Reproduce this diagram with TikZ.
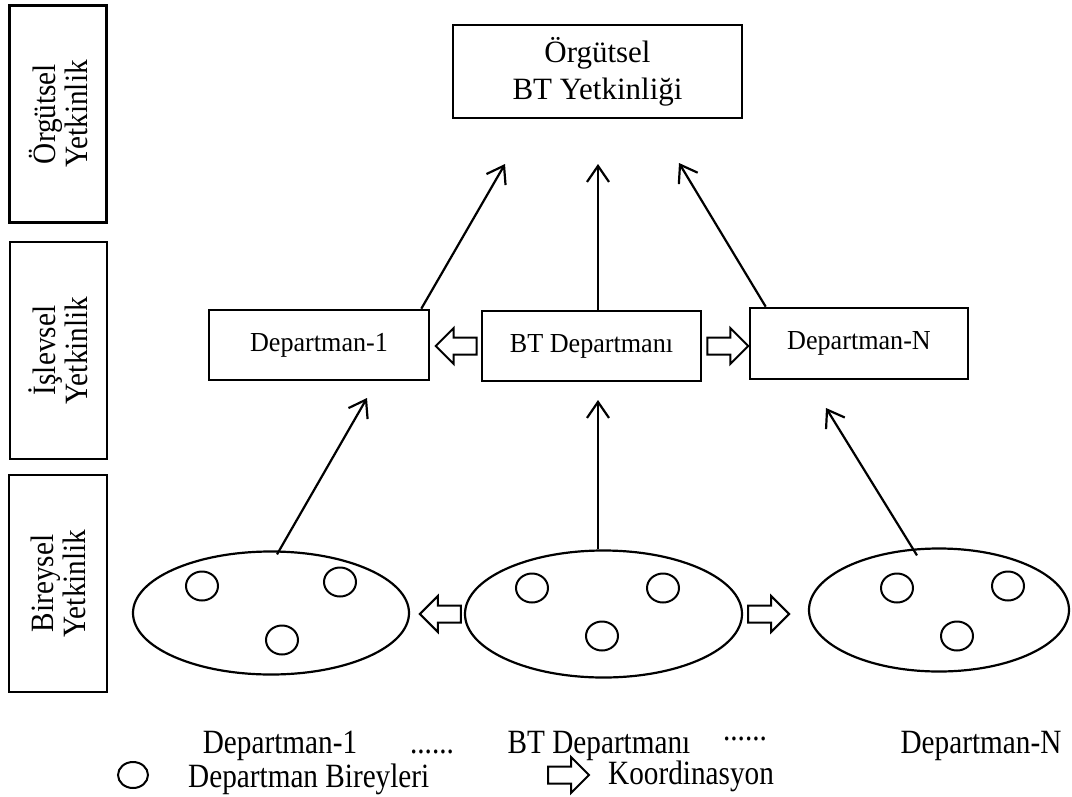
\documentclass[tikz,border=0pt]{standalone}
\usepackage{fontspec}
\setmainfont{Liberation Serif}
\newfontfamily\lblfont[FakeStretch=0.86]{Liberation Serif}
\newfontfamily\sidefont[FakeStretch=0.9]{Liberation Serif}
\newfontfamily\deptfont[FakeStretch=0.95]{Liberation Serif}
\usetikzlibrary{arrows.meta,shapes.geometric,calc}
\begin{document}
\begin{tikzpicture}[x=1pt,y=-1pt,
  box/.style={draw,line width=2.6pt,rectangle,inner sep=0pt,align=center},
  sidebox/.style={box,rotate=90,minimum width=217pt,minimum height=97pt,
    font=\sidefont\fontsize{32.5}{32}\selectfont},
  deptbox/.style={box,minimum width=219pt,minimum height=70pt,
    font=\deptfont\fontsize{27.5}{30}\selectfont},
  group/.style={draw,ellipse,line width=2.2pt,inner sep=0pt,minimum height=123pt},
  person/.style={draw,ellipse,line width=2pt,inner sep=0pt,
    minimum width=32pt,minimum height=29pt},
  upflow/.style={line width=2.2pt,
    -{Straight Barb[length=16pt,width=22pt,line width=2.2pt]}},
  lbl/.style={font=\lblfont\fontsize{34}{38}\selectfont,inner sep=0pt,anchor=base},
  coordarrow/.pic={\draw[line width=2pt,line join=miter]
    (0,-8.5) -- (23,-8.5) -- (23,-18) -- (41,0) -- (23,18) -- (23,8.5)
    -- (0,8.5) -- cycle;}
]
\useasboundingbox (0,0) rectangle (1072,796);

% competence levels
\node[sidebox] (lvlorg) at (58,114) {Örgütsel\\Yetkinlik};
\node[sidebox] (lvlfun) at (58.5,350.5) {İşlevsel\\Yetkinlik};
\node[sidebox,minimum height=98pt] (lvlind) at (58,583.5) {Bireysel\\Yetkinlik};

% organisational level
\node[box,minimum width=289pt,minimum height=93pt,
  font=\fontsize{31}{37}\selectfont] (org) at (597.5,71.5)
  {Örgütsel\\BT Yetkinliği};

% functional level
\node[deptbox,minimum width=220pt] (d1) at (319,345) {Departman-1};
\node[deptbox] (bt) at (591.5,346) {BT Departmanı};
\node[deptbox,minimum width=218pt,minimum height=71pt] (dn) at (859,343.5) {Departman-N};

% individual level
\node[group,minimum width=276pt] (g1) at (271,613) {};
\node[group,minimum width=277pt,minimum height=127pt] (g2) at (603.5,614) {};
\node[group,minimum width=260pt] (g3) at (939,610) {};

\node[person] (p11) at (202,586) {};
\node[person] (p12) at (340,582) {};
\node[person] (p13) at (282,640) {};
\node[person] (p21) at (532,588) {};
\node[person] (p22) at (663,588) {};
\node[person] (p23) at (602,636) {};
\node[person] (p31) at (897,588) {};
\node[person] (p32) at (1008,586) {};
\node[person] (p33) at (957,636) {};

% free ends of the upward arrows
\coordinate (t1) at (505,164);
\coordinate (t2) at (598,164);
\coordinate (t3) at (679,163);
\coordinate (u1) at (367,398);
\coordinate (u2) at (598,400);
\coordinate (u3) at (826,408);

\draw[upflow] ($(d1.north east)+(-9,0)$) -- (t1);
\draw[upflow] ($(bt.north)+(6.5,0)$) -- (t2);
\draw[upflow] ($(dn.north west)+(17,0)$) -- (t3);
\draw[upflow] ($(g1.north)+(6,4)$) -- (u1);
\draw[upflow] ($(g2.north)+(-5.5,0)$) -- (u2);
\draw[upflow] ($(g3.north)+(-22,8)$) -- (u3);

% coordination arrows
\pic[rotate=180] at ($(bt.west)+(-4,0)$) {coordarrow};
\pic at ($(bt.east)+(5,0)$) {coordarrow};
\pic[rotate=180] at ($(g2.west)+(-3,0)$) {coordarrow};
\pic at ($(g2.east)+(5,0)$) {coordarrow};

% group names
\node[lbl] (n1) at (280,753) {Departman-1};
\node[lbl] (dots1) at (432,753) {......};
\node[lbl] (n2) at (599,753) {BT Departmanı};
\node[lbl] (dots2) at (745,740) {......};
\node[lbl] (n3) at (981,753) {Departman-N};

% legend
\node[person,minimum width=30pt,minimum height=26pt] (legp) at (133,775) {};
\node[lbl,anchor=base west] (legpt) at (188,787) {Departman Bireyleri};
\pic at (548,775) {coordarrow};
\node[lbl,anchor=base west] (legat) at (608,784) {Koordinasyon};
\end{tikzpicture}
\end{document}
